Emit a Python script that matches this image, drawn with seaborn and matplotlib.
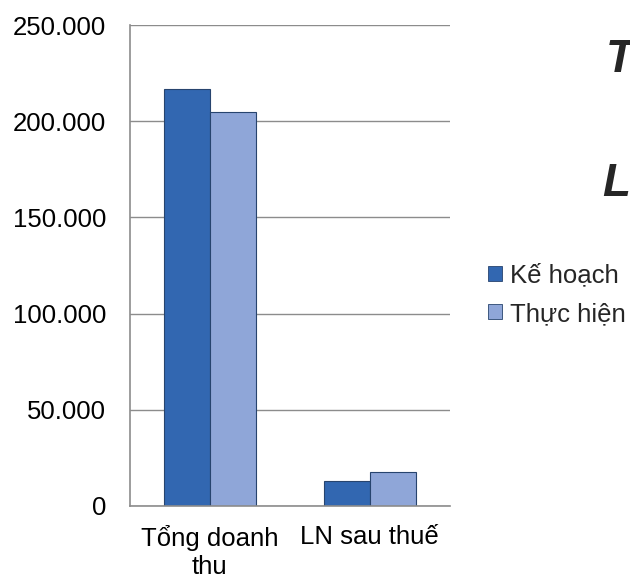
import pandas as pd
import matplotlib.pyplot as plt
import seaborn as sns
from matplotlib.ticker import FuncFormatter

# data (unit: thousand, Vietnamese separators)
categories = ['Tổng doanh\nthu', 'LN sau thuế']
series = ['Kế hoạch', 'Thực hiện']
ke_hoach = [216700, 13000]
thuc_hien = [204800, 17700]
colors = ['#3267b1', '#8fa6d8']

df = pd.DataFrame({
    'Category': categories * 2,
    'Series': [series[0]] * 2 + [series[1]] * 2,
    'Value': ke_hoach + thuc_hien,
})

sns.set_style('white')
plt.rcParams['font.family'] = ['Liberation Sans', 'DejaVu Sans']
fs = 18.5

fig = plt.figure(figsize=(6.3, 5.78), dpi=100)
ax = fig.add_axes([0.206, 0.1246, 0.508, 0.832])

sns.barplot(data=df, x='Category', y='Value', hue='Series',
            palette=colors, width=0.575, edgecolor='#27446e',
            linewidth=0.8, saturation=1, ax=ax, legend=False)

ax.set_ylim(0, 250000)
ax.set_yticks([0, 50000, 100000, 150000, 200000, 250000])
ax.yaxis.set_major_formatter(FuncFormatter(lambda v, p: f'{int(v):,}'.replace(',', '.')))
ax.grid(axis='y', color='#8c8c8c', linewidth=1)
ax.set_axisbelow(True)
ax.set_xlabel('')
ax.set_ylabel('')
ax.tick_params(axis='y', labelsize=fs, colors='black', length=0, pad=17)
ax.tick_params(axis='x', labelsize=fs, colors='black', length=0, pad=14)
for s in ['top', 'right']:
    ax.spines[s].set_visible(False)
for s in ['left', 'bottom']:
    ax.spines[s].set_color('#8c8c8c')
    ax.spines[s].set_linewidth(1.2)

# legend on the right
handles = [plt.Rectangle((0, 0), 1, 1, facecolor=c, edgecolor='#27446e', linewidth=0.6)
           for c in colors]
fig.legend(handles, series, loc='center left', bbox_to_anchor=(0.775, 0.49),
           frameon=False, fontsize=fs, handlelength=0.55, handleheight=0.55,
           handletextpad=0.3, labelspacing=0.55, borderaxespad=0, borderpad=0)

# clipped title letters at the right edge
fig.text(0.962, 0.896, 'T', fontsize=33, fontweight='bold', fontstyle='italic',
         ha='left', va='center')
fig.text(0.956, 0.682, 'L', fontsize=33, fontweight='bold', fontstyle='italic',
         ha='left', va='center')

plt.savefig('out.png', dpi=100)
